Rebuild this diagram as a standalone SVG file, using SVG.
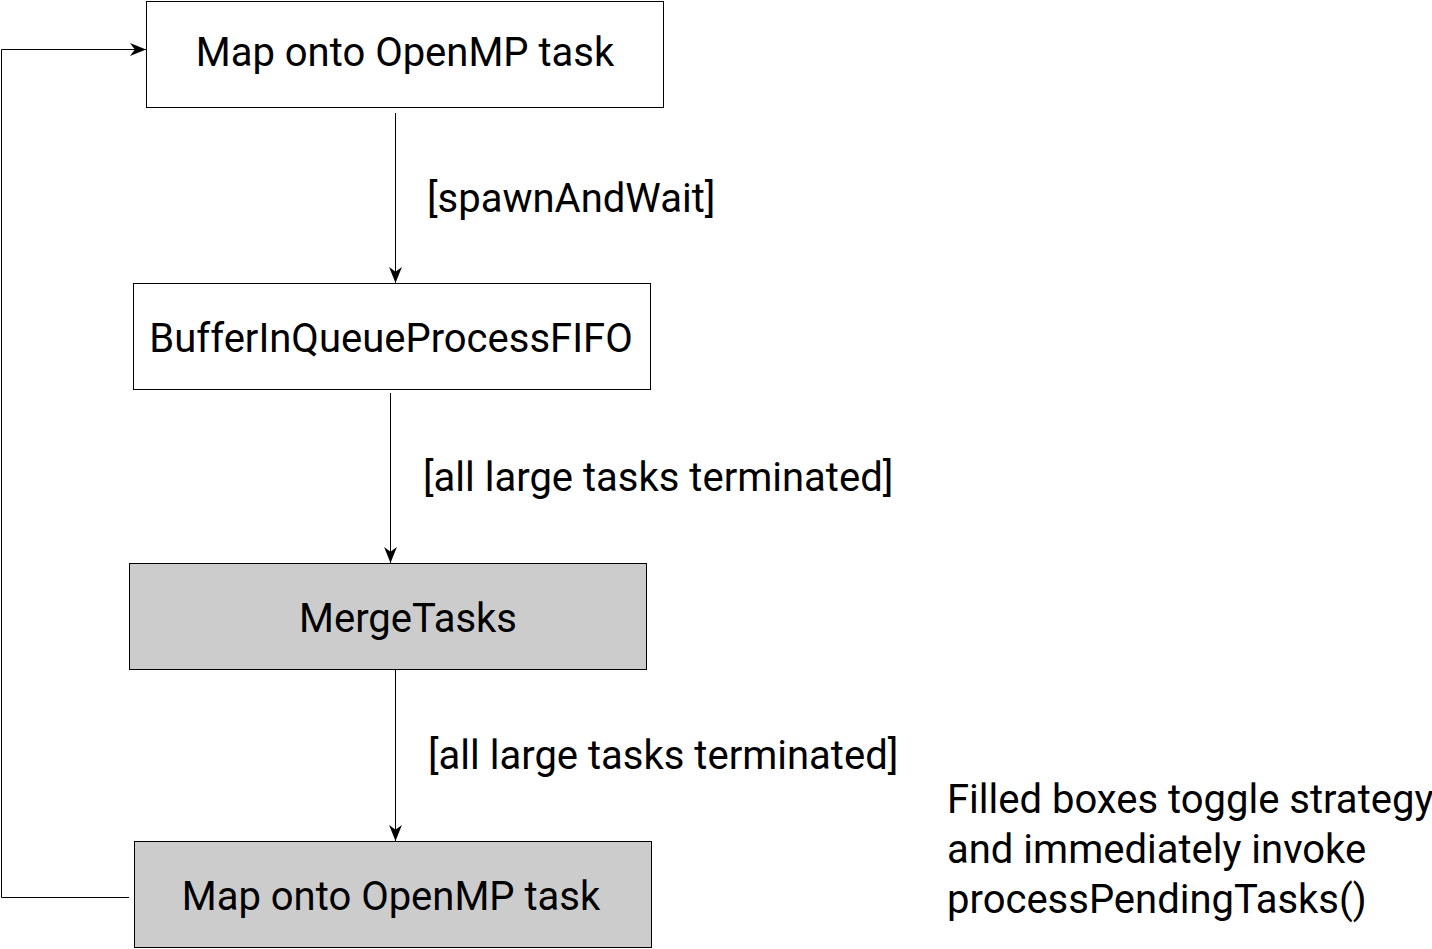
<svg xmlns="http://www.w3.org/2000/svg" width="1432" height="949" viewBox="0 0 1432 949">
<defs>
<style>
.box{stroke:#000;stroke-width:1;fill:#fff}
.filled{fill:#cccccc}
.t{font-family:Roboto,"Liberation Sans",sans-serif;font-size:40px;fill:#000}
.c{text-anchor:middle}
.edge{stroke:#000;stroke-width:1;fill:none}
</style>
<marker id="arr" viewBox="0 0 10 10" refX="10" refY="5" markerWidth="16" markerHeight="16" markerUnits="userSpaceOnUse" orient="auto">
<path d="M0,1 L10,5 L0,9 L3,5 Z" fill="#000"/>
</marker>
</defs>
<g id="n1"><rect class="box" x="146.5" y="1.5" width="517" height="106"/><text class="t c" x="405" y="66">Map onto OpenMP task</text></g>
<g id="n2"><rect class="box" x="133.5" y="283.5" width="517" height="106"/><text class="t c" x="391" y="352">BufferInQueueProcessFIFO</text></g>
<g id="n3"><rect class="box filled" x="129.5" y="563.5" width="517" height="106"/><text class="t c" x="408" y="632">MergeTasks</text></g>
<g id="n4"><rect class="box filled" x="134.5" y="841.5" width="517" height="106"/><text class="t c" x="391" y="910">Map onto OpenMP task</text></g>
<g id="connectors">
<line class="edge" x1="395.5" y1="113" x2="395.5" y2="283" marker-end="url(#arr)"/>
<line class="edge" x1="390.5" y1="393" x2="390.5" y2="563" marker-end="url(#arr)"/>
<line class="edge" x1="395.5" y1="670" x2="395.5" y2="841" marker-end="url(#arr)"/>
<polyline class="edge" points="129,897.5 1.5,897.5 1.5,49.5 146,49.5" marker-end="url(#arr)"/>
</g>
<g id="labels">
<text class="t" x="427" y="212">[spawnAndWait]</text>
<text class="t" x="423" y="491">[all large tasks terminated]</text>
<text class="t" x="428" y="769">[all large tasks terminated]</text>
<text class="t" x="947" y="813">Filled boxes toggle strategy</text>
<text class="t" x="947" y="863">and immediately invoke</text>
<text class="t" x="947" y="913">processPendingTasks()</text>
</g>
</svg>
